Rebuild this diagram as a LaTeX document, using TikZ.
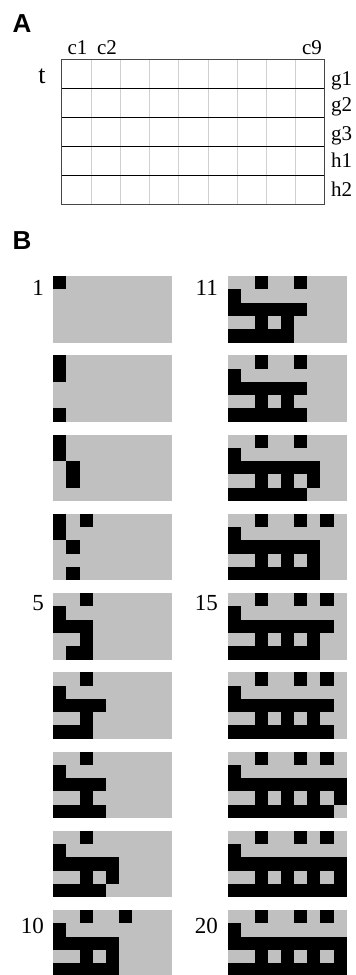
\documentclass[tikz,border=0pt]{standalone}
\usepackage{fontspec}
\setmainfont{Liberation Serif}
\newfontfamily\panelfont{Liberation Sans}
\definecolor{cellgray}{RGB}{192,192,192}
\definecolor{thingray}{RGB}{208,208,208}
\definecolor{framegray}{RGB}{70,70,70}
\newcommand\cw{13.15}
\newcommand\ch{13.3}
\def\bparse#1{\ifx#1\relax\else\ifnum#1=1 \fill[black] (\bx,\by) rectangle ++(\cw,\ch);\fi\pgfmathsetmacro\bx{\bx+\cw}\expandafter\bparse\fi}
\newcommand\gridrow[3]{\pgfmathsetmacro\bx{#1}\pgfmathsetmacro\by{#2}\bparse#3\relax}
\newcommand\pgrid[7]{%
  \fill[cellgray] (#1,#2) rectangle ++(9*\cw,5*\ch);
  \gridrow{#1}{#2}{#3}%
  \gridrow{#1}{#2+\ch}{#4}%
  \gridrow{#1}{#2+2*\ch}{#5}%
  \gridrow{#1}{#2+3*\ch}{#6}%
  \gridrow{#1}{#2+4*\ch}{#7}}
\tikzset{
  lbl/.style={font=\fontsize{21}{23}\selectfont, inner sep=0pt},
  num/.style={font=\fontsize{23}{25}\selectfont, inner sep=0pt, anchor=base east},
  panel/.style={font=\panelfont\bfseries\fontsize{26}{28}\selectfont, inner sep=0pt, anchor=base west}
}
\begin{document}
\begin{tikzpicture}[x=1pt,y=-1pt]
\useasboundingbox (0,0) rectangle (356,975);
% Panel A
\node[panel] (pa) at (12.5,32) {A};
\foreach \i in {1,...,8} \draw[thingray, line width=0.9pt] ({61.7+29.26*\i},59.3) -- ({61.7+29.26*\i},204.3);
\foreach \j in {1,...,4} \draw[black, line width=1pt] (61.7,{59.3+29*\j}) -- (324.3,{59.3+29*\j});
\draw[framegray, line width=1pt] (61.7,59.3) rectangle (324.3,204.3);
\node[lbl, anchor=base] (c1) at (77.5,54.5) {c1};
\node[lbl, anchor=base] (c2) at (107,54.5) {c2};
\node[lbl, anchor=base] (c9) at (312,54.5) {c9};
\node[lbl, anchor=base, font=\fontsize{26}{28}\selectfont] (t) at (42,83) {t};
\node[lbl, anchor=base west] (g1) at (331,85) {g1};
\node[lbl, anchor=base west] (g2) at (331,111.7) {g2};
\node[lbl, anchor=base west] (g3) at (331,140) {g3};
\node[lbl, anchor=base west] (h1) at (331,167.3) {h1};
\node[lbl, anchor=base west] (h2) at (331,196.7) {h2};
% Panel B
\node[panel] (pb) at (12.5,249.5) {B};
% left column
\pgrid{53.3}{276}{100000000}{000000000}{000000000}{000000000}{000000000}
\pgrid{53.3}{355.25}{100000000}{100000000}{000000000}{000000000}{100000000}
\pgrid{53.3}{434.5}{100000000}{100000000}{010000000}{010000000}{000000000}
\pgrid{53.3}{513.75}{101000000}{100000000}{010000000}{000000000}{010000000}
\pgrid{53.3}{593}{001000000}{100000000}{111000000}{001000000}{011000000}
\pgrid{53.3}{672.25}{001000000}{100000000}{111100000}{001000000}{111000000}
\pgrid{53.3}{751.5}{001000000}{100000000}{111100000}{001000000}{111100000}
\pgrid{53.3}{830.75}{001000000}{100000000}{111110000}{001010000}{111100000}
\pgrid{53.3}{910}{001001000}{100000000}{111110000}{001010000}{111110000}
% right column
\pgrid{228.3}{276}{001001000}{100000000}{111111000}{001010000}{111110000}
\pgrid{228.3}{355.25}{001001000}{100000000}{111111000}{001010000}{111111000}
\pgrid{228.3}{434.5}{001001000}{100000000}{111111100}{001010100}{111111000}
\pgrid{228.3}{513.75}{001001010}{100000000}{111111100}{001010100}{111111100}
\pgrid{228.3}{593}{001001010}{100000000}{111111110}{001010100}{111111100}
\pgrid{228.3}{672.25}{001001010}{100000000}{111111110}{001010100}{111111110}
\pgrid{228.3}{751.5}{001001010}{100000000}{111111111}{001010101}{111111110}
\pgrid{228.3}{830.75}{001001010}{100000000}{111111111}{001010101}{111111111}
\pgrid{228.3}{910}{001001010}{100000000}{111111111}{001010101}{111111111}
% step numbers
\node[num] (n1) at (44,295) {1};
\node[num] (n5) at (44,610.5) {5};
\node[num] (n10) at (44,933) {10};
\node[num] (n11) at (218,295) {11};
\node[num] (n15) at (218,610.5) {15};
\node[num] (n20) at (218,933) {20};
\end{tikzpicture}
\end{document}
